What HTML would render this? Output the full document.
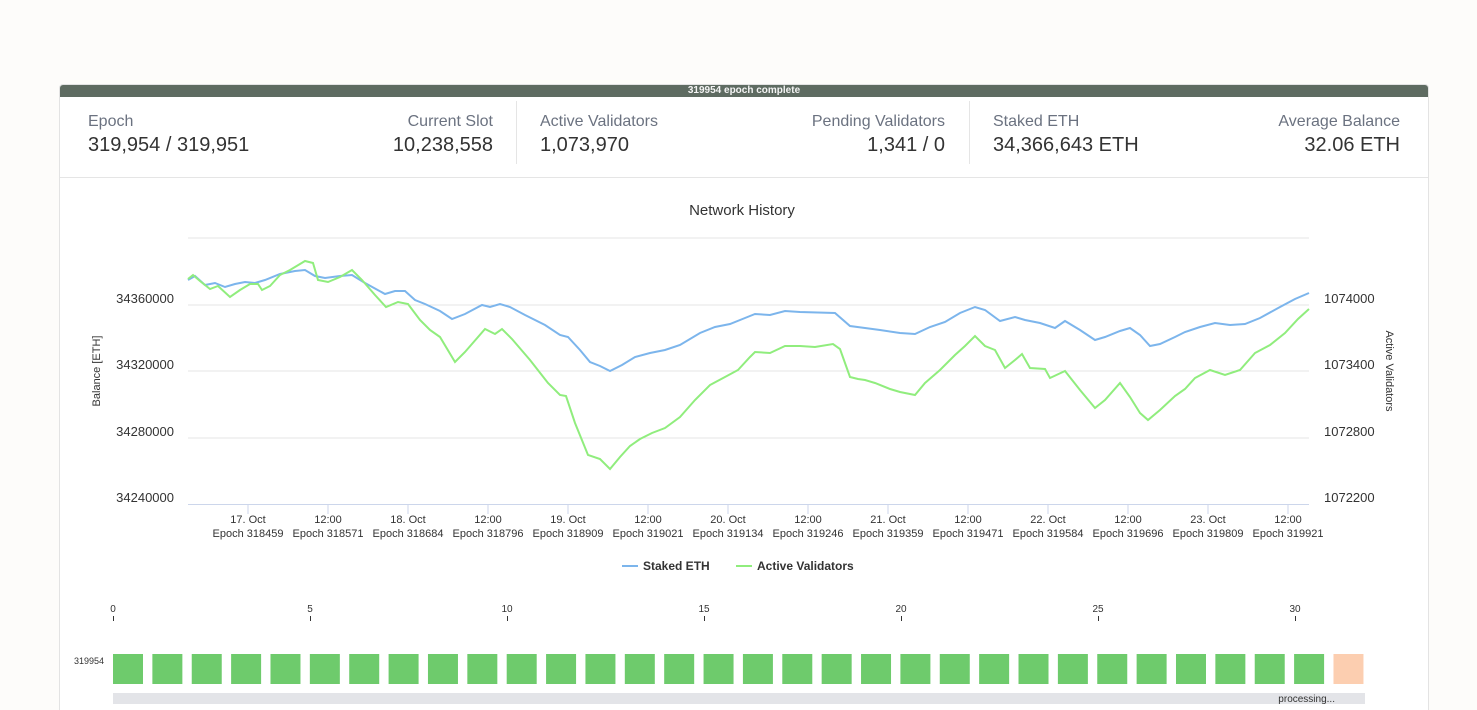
<!DOCTYPE html><html><head><meta charset="utf-8"><style>
html,body{margin:0;height:710px;overflow:hidden}
body{background:#fdfcfa;font-family:"Liberation Sans",sans-serif;width:1477px;position:relative}
.card{position:absolute;left:59px;top:84px;width:1368px;height:626px;background:#fff;border:1px solid #e3e3e3;border-bottom:none;border-radius:4px 4px 0 0;overflow:hidden}
.bar{height:12px;background:#5e6b61;color:#f4f4f4;font-size:10px;font-weight:bold;text-align:center;line-height:12px}
.st{position:absolute;font-size:16px;color:#6b7280}
.v{position:absolute;font-size:20px;color:#333}
.r{text-align:right}
.div{position:absolute;top:16px;width:1px;height:63px;background:#e5e5e5}
</style></head><body>
<div class="card"><div class="bar">319954 epoch complete</div>
<div class="st" style="left:28px;top:28px">Epoch</div><div class="v" style="left:28px;top:49px">319,954 / 319,951</div>
<div class="st r" style="right:935px;top:28px">Current Slot</div><div class="v r" style="right:935px;top:49px">10,238,558</div>
<div class="div" style="left:456px"></div>
<div class="st" style="left:480px;top:28px">Active Validators</div><div class="v" style="left:480px;top:49px">1,073,970</div>
<div class="st r" style="right:483px;top:28px">Pending Validators</div><div class="v r" style="right:483px;top:49px">1,341 / 0</div>
<div class="div" style="left:909px"></div>
<div class="st" style="left:933px;top:28px">Staked ETH</div><div class="v" style="left:933px;top:49px">34,366,643 ETH</div>
<div class="st r" style="right:28px;top:28px">Average Balance</div><div class="v r" style="right:28px;top:49px">32.06 ETH</div>
<div style="position:absolute;left:0;top:92px;width:100%;height:1px;background:#e5e5e5"></div>
</div>
<svg style="position:absolute;left:0;top:0" width="1477" height="710" font-family="Liberation Sans, sans-serif">
<text x="742" y="215" text-anchor="middle" font-size="15" fill="#333">Network History</text>
<g stroke="#e6e6e6"><line x1="188" x2="1309" y1="238" y2="238"/><line x1="188" x2="1309" y1="305" y2="305"/><line x1="188" x2="1309" y1="371" y2="371"/><line x1="188" x2="1309" y1="438" y2="438"/></g>
<line x1="188" x2="1309" y1="504.5" y2="504.5" stroke="#ccd6eb"/>
<g font-size="13" fill="#333" text-anchor="end"><text x="174" y="303">34360000</text><text x="174" y="369">34320000</text><text x="174" y="436">34280000</text><text x="174" y="502">34240000</text></g>
<g font-size="13" fill="#333"><text x="1324" y="303">1074000</text><text x="1324" y="369">1073400</text><text x="1324" y="436">1072800</text><text x="1324" y="502">1072200</text></g>
<text transform="translate(100,371) rotate(-90)" text-anchor="middle" font-size="11" fill="#333">Balance [ETH]</text>
<text transform="translate(1386,371) rotate(90)" text-anchor="middle" font-size="11" fill="#333">Active Validators</text>
<g font-size="11" fill="#333" text-anchor="middle" stroke="none">
<g stroke="#ccd6eb"><line x1="248" x2="248" y1="505" y2="514"/><line x1="328" x2="328" y1="505" y2="514"/><line x1="408" x2="408" y1="505" y2="514"/><line x1="488" x2="488" y1="505" y2="514"/><line x1="568" x2="568" y1="505" y2="514"/><line x1="648" x2="648" y1="505" y2="514"/><line x1="728" x2="728" y1="505" y2="514"/><line x1="808" x2="808" y1="505" y2="514"/><line x1="888" x2="888" y1="505" y2="514"/><line x1="968" x2="968" y1="505" y2="514"/><line x1="1048" x2="1048" y1="505" y2="514"/><line x1="1128" x2="1128" y1="505" y2="514"/><line x1="1208" x2="1208" y1="505" y2="514"/><line x1="1288" x2="1288" y1="505" y2="514"/></g>
<text x="248" y="523">17. Oct</text><text x="248" y="537">Epoch 318459</text>
<text x="328" y="523">12:00</text><text x="328" y="537">Epoch 318571</text>
<text x="408" y="523">18. Oct</text><text x="408" y="537">Epoch 318684</text>
<text x="488" y="523">12:00</text><text x="488" y="537">Epoch 318796</text>
<text x="568" y="523">19. Oct</text><text x="568" y="537">Epoch 318909</text>
<text x="648" y="523">12:00</text><text x="648" y="537">Epoch 319021</text>
<text x="728" y="523">20. Oct</text><text x="728" y="537">Epoch 319134</text>
<text x="808" y="523">12:00</text><text x="808" y="537">Epoch 319246</text>
<text x="888" y="523">21. Oct</text><text x="888" y="537">Epoch 319359</text>
<text x="968" y="523">12:00</text><text x="968" y="537">Epoch 319471</text>
<text x="1048" y="523">22. Oct</text><text x="1048" y="537">Epoch 319584</text>
<text x="1128" y="523">12:00</text><text x="1128" y="537">Epoch 319696</text>
<text x="1208" y="523">23. Oct</text><text x="1208" y="537">Epoch 319809</text>
<text x="1288" y="523">12:00</text><text x="1288" y="537">Epoch 319921</text>
</g>
<polyline fill="none" stroke="#7cb5ec" stroke-width="2" points="188,280 195,276 205,285 215,283 225,287 235,284 245,282 255,283 265,280 280,274 295,271 305,270 315,276 325,278 340,276 352,275 365,283 385,294 395,291 405,291 415,300 425,304 440,311 452,319 465,314 482,305 490,307 500,304 510,307 525,315 545,325 560,335 568,337 580,350 590,362 600,366 610,371 622,365 635,357 650,353 665,350 680,345 700,333 715,327 730,324 745,318 755,314 770,315 785,311 800,312 835,313 850,326 865,328 880,330 900,333 915,334 930,327 945,322 960,313 975,307 985,310 1000,321 1015,317 1025,320 1040,323 1055,328 1065,321 1080,330 1095,340 1105,337 1120,331 1130,328 1140,335 1150,346 1160,344 1175,337 1185,332 1200,327 1215,323 1230,325 1245,324 1260,318 1280,307 1295,299 1309,293"/>
<polyline fill="none" stroke="#90ed7d" stroke-width="2" points="188,279 193,275 200,281 210,289 218,286 230,297 240,290 250,284 258,284 262,290 270,286 280,275 290,270 300,264 305,261 313,263 318,280 328,282 340,277 352,270 362,280 375,295 386,307 398,302 408,304 420,320 430,330 440,337 455,362 465,352 485,329 495,334 502,329 512,339 530,360 548,383 560,395 566,396 575,423 588,455 600,459 610,469 620,457 630,446 640,439 652,433 665,428 680,417 695,400 710,385 725,377 738,370 750,357 755,352 770,353 785,346 800,346 815,347 833,344 840,349 850,377 858,379 865,380 875,383 890,389 900,392 915,395 925,383 940,370 955,355 965,346 975,336 985,346 995,350 1005,368 1015,360 1022,354 1030,368 1045,369 1050,378 1065,371 1080,390 1095,408 1105,400 1120,383 1130,397 1140,413 1148,420 1160,410 1175,396 1185,389 1195,378 1210,370 1225,375 1240,370 1255,353 1270,345 1285,333 1298,319 1309,309"/>
<line x1="622" x2="638" y1="566" y2="566" stroke="#7cb5ec" stroke-width="2"/><text x="643" y="570" font-size="12" font-weight="bold" fill="#333">Staked ETH</text>
<line x1="736" x2="752" y1="566" y2="566" stroke="#90ed7d" stroke-width="2"/><text x="757" y="570" font-size="12" font-weight="bold" fill="#333">Active Validators</text>
<g font-size="10" fill="#333" text-anchor="middle">
<text x="113" y="612">0</text><text x="310" y="612">5</text><text x="507" y="612">10</text><text x="704" y="612">15</text><text x="901" y="612">20</text><text x="1098" y="612">25</text><text x="1295" y="612">30</text></g>
<g stroke="#333"><line x1="113.5" x2="113.5" y1="616" y2="621"/><line x1="310.5" x2="310.5" y1="616" y2="621"/><line x1="507.5" x2="507.5" y1="616" y2="621"/><line x1="704.5" x2="704.5" y1="616" y2="621"/><line x1="901.5" x2="901.5" y1="616" y2="621"/><line x1="1098.5" x2="1098.5" y1="616" y2="621"/><line x1="1295.5" x2="1295.5" y1="616" y2="621"/></g>
<text x="104" y="664" font-size="9" fill="#333" text-anchor="end">319954</text>
<g fill="#6ecb6c" id="sq"></g>
<rect x="113" y="693" width="1252" height="11" fill="#e3e4e8"/>
<text x="1335" y="702" font-size="10" fill="#333" text-anchor="end">processing...</text>
</svg>
<script>
var g=document.getElementById('sq'),s='';
for(var i=0;i<32;i++){s+='<rect x="'+(113+i*39.37)+'" y="654" width="30" height="30" fill="'+(i==31?'#fcceb0':'#6ecb6c')+'"/>';}
g.innerHTML=s;
</script>
</body></html>
